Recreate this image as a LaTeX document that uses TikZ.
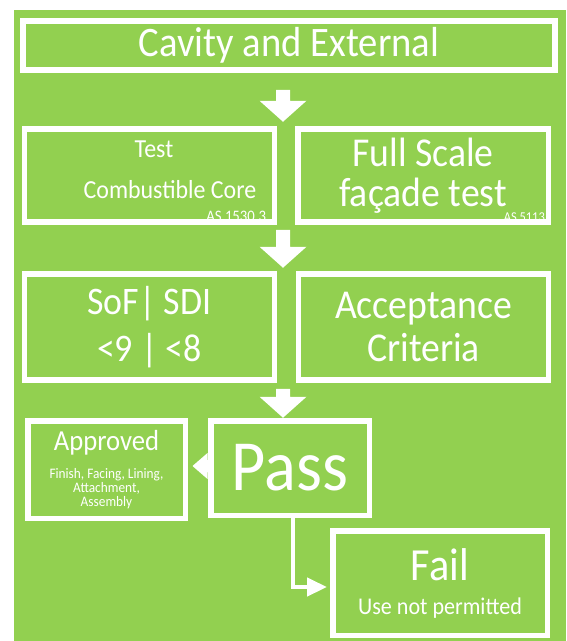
\documentclass[tikz,border=0pt]{standalone}
\usepackage{fontspec}
\setmainfont{Carlito}[FakeStretch=0.92]
\usetikzlibrary{arrows.meta}

\definecolor{leafgreen}{HTML}{92D050}
\newcommand\tightlines{\lineskiplimit=-10pt\relax}

\begin{document}
\begin{tikzpicture}[
    x=1pt, y=-1pt,
    box/.style = {
        draw=white, line width=5.5pt, fill=leafgreen,
        text=white, align=center, inner sep=0pt
    },
    boxtext/.style = {text=white, align=center, inner sep=0pt},
    stdref/.style = {
        text=white, inner sep=0pt,
        font=\fontsize{15}{15}\selectfont
    },
    link/.style = {white, line width=4.5pt,
        -{Triangle[width=18pt, length=20pt]}},
    % block arrows, #1 = shaft length
    downblock/.pic = {
        \fill[white] (-7,0) -- (7,0) -- (7,#1) -- (23.5,#1)
          -- (0,{#1+21}) -- (-23.5,#1) -- (-7,#1) -- cycle;
    },
    leftblock/.pic = {
        \fill[white] (0,0) -- (15,-13) -- (15,-6) -- (21,-6)
          -- (21,6) -- (15,6) -- (15,13) -- cycle;
    },
]

%% ── Page and green panel ────────────────────────────────────────────
\useasboundingbox (0,0) rectangle (566,641);
\fill[white] (0,0) rectangle (566,641);
\fill[leafgreen] (14,10) rectangle (566,641);

%% ── Heading ─────────────────────────────────────────────────────────
\node[box, minimum width=532pt, minimum height=49pt,
      font=\fontsize{42}{42}\selectfont]
  (top) at (289,45.5) {Cavity and External};

%% Test row (y = 175)
\node[box, minimum width=250pt, minimum height=93pt] (core) at (149.5,175.5) {};
\node[boxtext, font=\fontsize{26}{41}\selectfont]
  (coretext) at (170,170) {\hspace*{-32pt}Test\\Combustible Core};
\node[box, minimum width=250.5pt, minimum height=93pt,
      font=\fontsize{41}{40}\selectfont]
  (facade) at (423,175.5) {Full Scale\\façade test};

\node[stdref, font=\fontsize{16}{16}\selectfont, anchor=base east]
  (as1530) at ([xshift=-11pt, yshift=3pt]core.south east) {AS 1530.3};
\node[stdref, font=\fontsize{13.5}{13.5}\selectfont, anchor=base east]
  (as5113) at ([xshift=-6pt, yshift=3.5pt]facade.south east) {AS 5113};

%% Criteria row (y = 327)
\node[box, minimum width=250pt, minimum height=106pt,
      font=\fontsize{39}{47}\selectfont]
  (sdi) at (149.5,327) {SoF| SDI\\<9 | <8};
\node[box, minimum width=250pt, minimum height=106pt,
      font=\fontsize{41}{43}\selectfont]
  (crit) at (423.5,327) {Acceptance\\Criteria};

%% ── Outcome ─────────────────────────────────────────────────────────
\node[box, minimum width=157.5pt, minimum height=97.5pt,
      font=\fontsize{14.5}{14}\selectfont\tightlines]
  (appr) at (106.5,469.5)
  {{\fontsize{29}{29}\selectfont Approved}\\[14pt]
   Finish, Facing, Lining,\\Attachment,\\Assembly};

\node[box, minimum width=158.5pt, minimum height=94.5pt,
      font=\fontsize{72}{72}\selectfont]
  (pass) at (290,468) {Pass};

\node[box, minimum width=214.5pt, minimum height=104.5pt,
      font=\fontsize{24}{24}\selectfont]
  (fail) at (440,583)
  {{\fontsize{46}{46}\selectfont Fail}\\[10pt]Use not permitted};

%% ── Arrows ──────────────────────────────────────────────────────────
\coordinate (mid) at (283,0);

\pic[yshift=-17pt] at (top.south -| mid) {downblock=11};
\pic[yshift=-5pt]  at (core.south -| mid) {downblock=17};
\pic[yshift=-6pt]  at (sdi.south -| mid)  {downblock=8};

\pic[xshift=4.5pt] at ([yshift=2pt]pass.west -| appr.east) {leftblock};

\draw[link, shorten >=3pt]
  ([xshift=3pt]pass.south) |- ([yshift=-4pt]fail.west);

\end{tikzpicture}
\end{document}
